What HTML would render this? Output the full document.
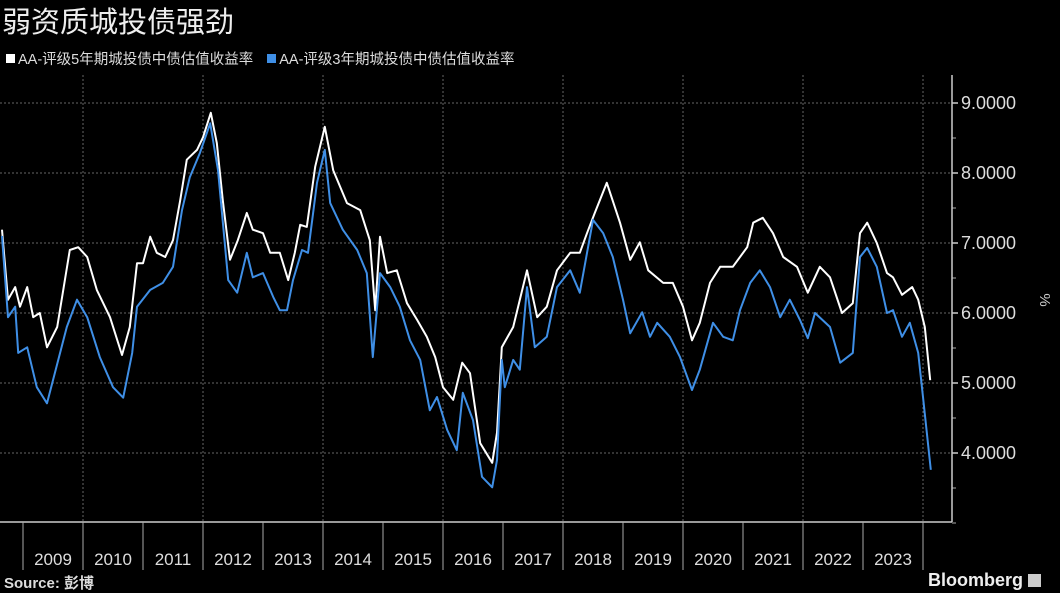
<!DOCTYPE html>
<html><head><meta charset="utf-8">
<style>
html,body{margin:0;padding:0;background:#000;}
body{width:1060px;height:592px;overflow:hidden;position:relative;font-family:"Liberation Sans","Noto Sans CJK SC",sans-serif;color:#fff;}
#title{position:absolute;left:2px;top:0px;font-size:29px;line-height:40px;color:#eee;font-family:"Noto Sans CJK SC",sans-serif;}
#legend{position:absolute;left:6px;top:49px;font-size:14.5px;line-height:22px;color:#ddd;font-family:"Liberation Sans","Noto Sans CJK SC",sans-serif;}
.sw{display:inline-block;width:9px;height:9px;margin-right:3px;vertical-align:1px;}
svg{position:absolute;left:0;top:0;}
</style></head><body>
<div id="title">弱资质城投债强劲</div>
<div id="legend">
<span><span class="sw" style="background:#fff"></span>AA-评级5年期城投债中债估值收益率</span>
<span style="margin-left:10px"><span class="sw" style="background:#3f8fe6"></span>AA-评级3年期城投债中债估值收益率</span>
</div>
<svg id="chart" width="1060" height="592"></svg>
<script>
const yTicks=[4,5,6,7,8,9];
const tickLabels=["4.0000","5.0000","6.0000","7.0000","8.0000","9.0000"];
const years=[2009,2010,2011,2012,2013,2014,2015,2016,2017,2018,2019,2020,2021,2022,2023];
const dates5y=[2008.65,2008.75,2008.87,2008.95,2009.07,2009.17,2009.28,2009.40,2009.57,2009.78,2009.92,2010.07,2010.23,2010.45,2010.65,2010.78,2010.90,2011.00,2011.12,2011.23,2011.37,2011.50,2011.62,2011.73,2011.90,2012.00,2012.13,2012.23,2012.33,2012.45,2012.58,2012.73,2012.83,2013.00,2013.12,2013.28,2013.42,2013.53,2013.62,2013.73,2013.87,2014.03,2014.17,2014.40,2014.62,2014.78,2014.87,2014.95,2015.07,2015.23,2015.40,2015.57,2015.73,2015.87,2016.00,2016.17,2016.32,2016.45,2016.62,2016.82,2016.90,2016.98,2017.17,2017.40,2017.57,2017.73,2017.90,2018.12,2018.28,2018.40,2018.53,2018.73,2018.95,2019.12,2019.28,2019.42,2019.67,2019.83,2020.00,2020.15,2020.28,2020.45,2020.62,2020.83,2021.07,2021.17,2021.33,2021.50,2021.67,2021.90,2022.08,2022.28,2022.45,2022.65,2022.83,2022.95,2023.07,2023.23,2023.40,2023.50,2023.65,2023.82,2023.92,2024.03,2024.12];
const values5y=[7.19,6.19,6.37,6.09,6.37,5.94,6.0,5.51,5.8,6.9,6.94,6.8,6.33,5.94,5.4,5.8,6.71,6.71,7.09,6.86,6.8,7.04,7.61,8.19,8.33,8.51,8.86,8.43,7.61,6.76,7.04,7.43,7.19,7.14,6.86,6.86,6.47,6.86,7.26,7.23,8.09,8.66,8.04,7.57,7.47,7.04,6.04,7.09,6.57,6.61,6.14,5.9,5.66,5.37,4.94,4.76,5.29,5.14,4.14,3.86,4.29,5.51,5.8,6.61,5.94,6.09,6.61,6.86,6.86,7.14,7.43,7.86,7.29,6.76,7.01,6.61,6.43,6.43,6.09,5.61,5.86,6.43,6.66,6.66,6.94,7.29,7.36,7.14,6.8,6.66,6.29,6.66,6.51,6.0,6.14,7.14,7.29,7.0,6.57,6.51,6.26,6.37,6.19,5.8,5.04];
const dates3y=[2008.65,2008.67,2008.75,2008.87,2008.92,2009.07,2009.23,2009.40,2009.53,2009.73,2009.90,2010.07,2010.28,2010.50,2010.67,2010.82,2010.90,2011.12,2011.33,2011.50,2011.65,2011.78,2011.95,2012.12,2012.25,2012.42,2012.57,2012.73,2012.83,2013.00,2013.17,2013.28,2013.40,2013.50,2013.65,2013.75,2013.90,2014.03,2014.12,2014.33,2014.57,2014.73,2014.83,2014.95,2015.12,2015.28,2015.45,2015.62,2015.78,2015.90,2016.07,2016.23,2016.33,2016.50,2016.65,2016.82,2016.90,2016.98,2017.03,2017.17,2017.28,2017.40,2017.53,2017.73,2017.90,2018.12,2018.28,2018.50,2018.67,2018.83,2019.00,2019.12,2019.32,2019.45,2019.57,2019.78,2019.95,2020.15,2020.28,2020.50,2020.67,2020.83,2020.95,2021.12,2021.28,2021.45,2021.62,2021.78,2021.95,2022.08,2022.20,2022.45,2022.62,2022.83,2022.95,2023.07,2023.23,2023.40,2023.50,2023.65,2023.78,2023.92,2024.00,2024.13];
const values3y=[7.1,6.86,5.94,6.09,5.43,5.51,4.94,4.71,5.14,5.8,6.19,5.94,5.37,4.94,4.79,5.43,6.09,6.33,6.43,6.66,7.47,7.94,8.29,8.71,8.04,6.47,6.29,6.86,6.51,6.57,6.23,6.04,6.04,6.47,6.9,6.86,7.86,8.33,7.57,7.19,6.9,6.57,5.37,6.57,6.37,6.09,5.61,5.33,4.61,4.8,4.33,4.04,4.86,4.47,3.66,3.51,3.9,5.33,4.94,5.33,5.19,6.37,5.51,5.66,6.37,6.61,6.29,7.33,7.14,6.8,6.19,5.71,6.01,5.66,5.86,5.66,5.37,4.9,5.19,5.86,5.66,5.61,6.04,6.43,6.61,6.37,5.94,6.19,5.9,5.64,6.0,5.8,5.29,5.43,6.8,6.93,6.66,6.0,6.04,5.66,5.86,5.43,4.8,3.76];

const svg=document.getElementById('chart');
const NS='http://www.w3.org/2000/svg';
const X0=23,YW=60,PR=952,PB=522;
function xs(t){return X0+(t-2009)*YW;}
function ys(v){return 103+(9-v)*70;}
function mk(tag,attrs){const e=document.createElementNS(NS,tag);for(const k in attrs)e.setAttribute(k,attrs[k]);svg.appendChild(e);return e;}

yTicks.forEach(function(v,i){
  const g=mk('line',{x1:0,x2:PR,y1:ys(v),y2:ys(v),stroke:'#666','stroke-width':1,'stroke-dasharray':'2,2'});
  
  
  const t=mk('line',{x1:PR,x2:PR+6,y1:ys(v),y2:ys(v),stroke:'#ccc','stroke-width':1.5});
  
  
  const l=mk('text',{x:PR+9,y:ys(v)+6,fill:'#ddd','font-size':18,'font-family':'Liberation Sans, sans-serif'});
  l.textContent=tickLabels[i];
  
  
});
[3.5,4.5,5.5,6.5,7.5,8.5,3].forEach(function(v){
  const t=mk('line',{x1:PR,x2:PR+4,y1:ys(v),y2:ys(v),stroke:'#aaa','stroke-width':1});
  
  
});
for(let yr=2010;yr<=2024;yr+=2){
  const g=mk('line',{x1:xs(yr),x2:xs(yr),y1:75,y2:PB,stroke:'#666','stroke-width':1,'stroke-dasharray':'2,2'});
  
  
}
const ax=mk('line',{x1:0,x2:PR,y1:PB,y2:PB,stroke:'#ccc','stroke-width':1.5});


const ay=mk('line',{x1:PR,x2:PR,y1:75,y2:PB,stroke:'#ccc','stroke-width':1.5});


years.concat([2024]).forEach(function(yr){
  const t=mk('line',{x1:xs(yr),x2:xs(yr),y1:PB,y2:570,stroke:'#aaa','stroke-width':1});
  
  
});
years.forEach(function(yr){
  const l=mk('text',{x:xs(yr+0.5),y:565,fill:'#ddd','font-size':17,'text-anchor':'middle','font-family':'Liberation Sans, sans-serif'});
  l.textContent=String(yr);
  
  
});
function pathOf(d,v){return d.map(function(t,i){return (i?'L':'M')+xs(t).toFixed(1)+','+ys(v[i]).toFixed(1);}).join('');}
const p5=mk('path',{d:pathOf(dates5y,values5y),fill:'none',stroke:'#fff','stroke-width':2,'stroke-linejoin':'round'});


const p3=mk('path',{d:pathOf(dates3y,values3y),fill:'none',stroke:'#3f8fe6','stroke-width':2,'stroke-linejoin':'round'});


const u=mk('text',{x:1040,y:300,fill:'#ccc','font-size':15,'text-anchor':'middle',transform:'rotate(90 1040 300)','font-family':'Liberation Sans, sans-serif'});
u.textContent='%';


</script>
<div style="position:absolute;left:4px;top:572px;font-size:15px;font-weight:bold;color:#ddd;font-family:'Liberation Sans','Noto Sans CJK SC',sans-serif;">Source: 彭博</div>
<div style="position:absolute;left:928px;top:570px;font-size:18px;font-weight:bold;color:#eee;">Bloomberg <span style="display:inline-block;width:13px;height:13px;background:#ccc;vertical-align:-1px;"></span></div>
</body></html>
